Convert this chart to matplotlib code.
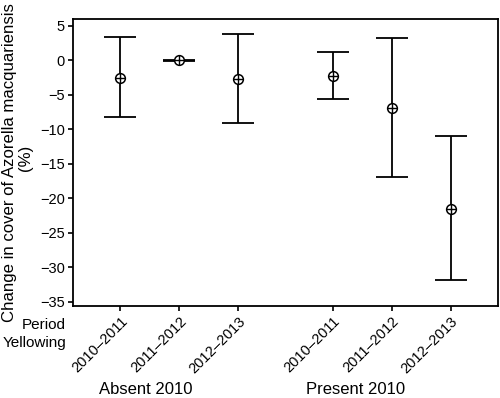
import matplotlib
matplotlib.use("Agg")
import matplotlib.pyplot as plt

plt.rcParams['font.family'] = ['Liberation Sans', 'DejaVu Sans']

periods = ["2010–2011", "2011–2012", "2012–2013", "2010–2011", "2011–2012", "2012–2013"]
groups = ["Absent 2010", "Present 2010"]
positions = [0, 1, 2, 3.6, 4.6, 5.6]
means = [-2.55, 0.0, -2.65, -2.27, -6.9, -21.5]
upper = [3.37, 0.1, 3.76, 1.16, 3.22, -10.9]
lower = [-8.19, -0.1, -9.1, -5.63, -16.95, -31.9]

fig = plt.figure(figsize=(5.0, 3.98), dpi=100)
ax = fig.add_axes([73/500, 1-306/398, (498-73)/500, (306-19)/398])

yerr = [[m - l for m, l in zip(means, lower)], [u - m for m, u in zip(means, upper)]]
ax.errorbar(positions, means, yerr=yerr, fmt='none', ecolor='black',
            elinewidth=1.3, capsize=11.5, capthick=1.3, zorder=2)
ax.plot(positions, means, 'o', ms=7, mfc='white', mec='black', mew=1.1, zorder=3)
ax.plot(positions, means, '+', ms=7, mec='black', mew=1.0, zorder=4)

ax.set_xlim(-0.8, 6.4)
ax.set_ylim(-35.6, 6.0)
ax.set_yticks(range(5, -36, -5))
ax.set_yticklabels([str(v).replace('-', '−') for v in range(5, -36, -5)], fontsize=10.5)
ax.set_xticks(positions)
ax.set_xticklabels(periods, rotation=45, ha='right', rotation_mode='anchor', fontsize=10.5)
ax.tick_params(axis='both', length=3.5, width=1.2, color='black', pad=2.5)
for s in ax.spines.values():
    s.set_linewidth(1.3)

fig.text(10/500, 1-163/398, "Change in cover of Azorella macquariensis", rotation=90,
         ha='center', va='center', fontsize=12.1)
fig.text(25/500, 1-158/398, "(%)", rotation=90, ha='center', va='center', fontsize=12.1)

fig.text(66/500, 1-325/398, "Period", ha='right', va='center', fontsize=11)
fig.text(66/500, 1-343/398, "Yellowing", ha='right', va='center', fontsize=11)
fig.text(146/500, 1-390/398, groups[0], ha='center', va='center', fontsize=12)
fig.text(356/500, 1-390/398, groups[1], ha='center', va='center', fontsize=12)

fig.savefig("out.png", dpi=100)
